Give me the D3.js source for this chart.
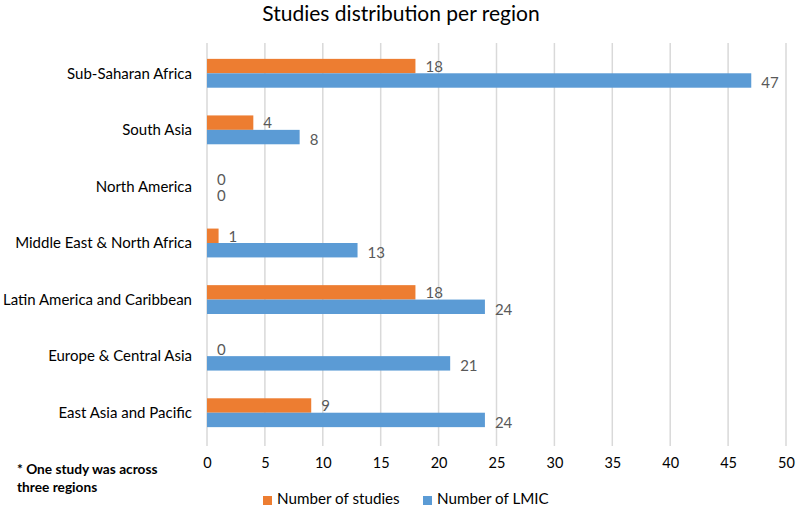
<!DOCTYPE html>
<html><head><meta charset="utf-8">
<script src="https://cdn.jsdelivr.net/npm/d3@7"></script>
<style>body{margin:0;background:#fff}svg{display:block}</style>
</head><body>
<svg id="c" width="796" height="506"></svg>
<script>
const categories = ["Sub-Saharan Africa","South Asia","North America","Middle East & North Africa","Latin America and Caribbean","Europe & Central Asia","East Asia and Pacific"];
const studies = [18,4,0,1,18,0,9];
const lmic = [47,8,0,13,24,21,24];
const seriesNames = ["Number of studies","Number of LMIC"];
const colors = ["#ED7D31","#5B9BD5"];
const tickValues = [0,5,10,15,20,25,30,35,40,45,50];

const svg = d3.select("#c");
const font = "Lato, 'Open Sans', sans-serif";
const x = d3.scaleLinear().domain([0,50]).range([207, 786]);
const y = d3.scaleBand().domain(categories).range([45, 441]).paddingInner(0.49).paddingOuter(0.245);
const sub = d3.scaleBand().domain([0,1]).range([0, y.bandwidth()]);

svg.append("text").attr("x", 401).attr("y", 21).attr("text-anchor","middle")
  .attr("font-family", font).attr("font-size", 21).attr("fill","#000").text("Studies distribution per region");

// gridlines
svg.append("g").selectAll("line").data(tickValues).join("line")
  .attr("x1", d=>x(d)).attr("x2", d=>x(d)).attr("y1", 43).attr("y2", 446)
  .attr("stroke", "#d9d9d9").attr("stroke-width", 1.5);

// axis labels
const ax = svg.append("g").attr("transform","translate(0,446)")
  .call(d3.axisBottom(x).tickValues(tickValues).tickSize(0).tickPadding(12));
ax.select(".domain").remove();
ax.selectAll("text").attr("font-family", font).attr("font-size", 14.5).attr("fill","#000");

// category labels
svg.append("g").selectAll("text").data(categories).join("text")
  .attr("x", 192).attr("y", d=>y(d)+y.bandwidth()/2).attr("dy","0.35em")
  .attr("text-anchor","end").attr("font-family", font).attr("font-size", 15).attr("fill","#000")
  .text(d=>d);

const series = [studies, lmic];
const labelOffset = [0.5, 2.5];
series.forEach((vals, si) => {
  const g = svg.append("g");
  g.selectAll("rect").data(vals).join("rect")
    .attr("x", x(0)).attr("y", (d,i)=>y(categories[i])+sub(si))
    .attr("width", d=>x(d)-x(0)).attr("height", sub.bandwidth())
    .attr("fill", colors[si]);
  g.selectAll("text").data(vals).join("text")
    .attr("x", d=>x(d)+10).attr("y", (d,i)=>y(categories[i])+sub(si)+sub.bandwidth()/2 + labelOffset[si])
    .attr("dy","0.35em").attr("font-family", font).attr("font-size", 15).attr("fill","#595959")
    .text(d=>d);
});

// footnote
svg.append("text").attr("font-family", font).attr("font-size", 13.7).attr("font-weight","bold").attr("fill","#000")
  .selectAll("tspan").data(["* One study was across","three regions"]).join("tspan")
  .attr("x", 17).attr("y", (d,i)=>474+i*18).text(d=>d);

// legend
const lg = svg.append("g");
const lx = [263, 423];
seriesNames.forEach((n,i)=>{
  lg.append("rect").attr("x", lx[i]).attr("y", 496).attr("width", 9).attr("height", 9).attr("fill", colors[i]);
  lg.append("text").attr("x", lx[i]+14).attr("y", 504).attr("font-family", font).attr("font-size", 15.2).attr("fill","#000").text(n);
});
</script>
</body></html>
